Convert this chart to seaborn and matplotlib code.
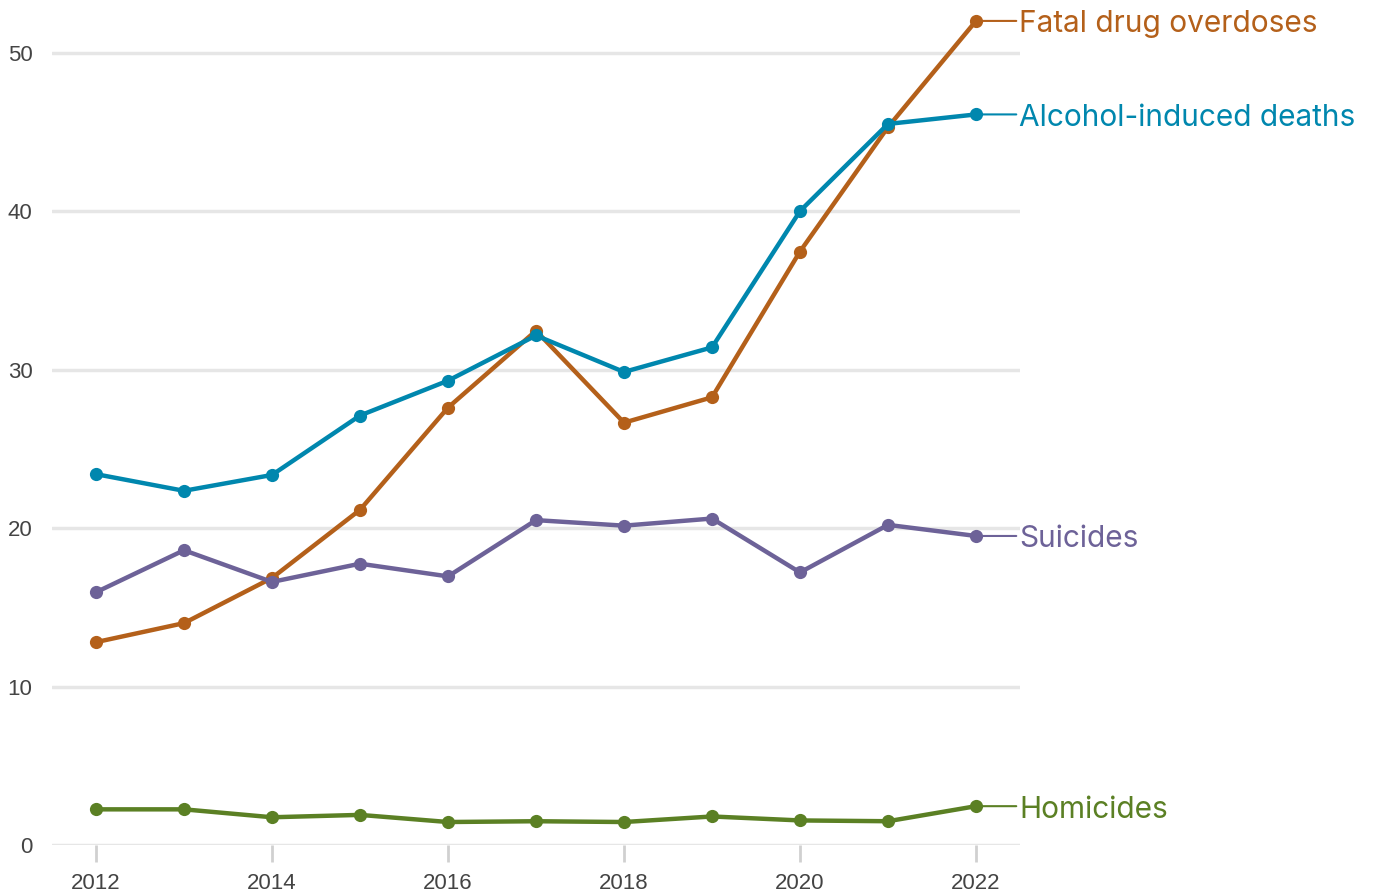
import matplotlib
matplotlib.use("Agg")
import matplotlib.pyplot as plt
import seaborn as sns
import pandas as pd

years = list(range(2012, 2023))
alcohol = [23.4, 22.35, 23.35, 27.1, 29.3, 32.15, 29.85, 31.4, 40.0, 45.5, 46.1]
drug = [12.8, 14.0, 16.85, 21.15, 27.6, 32.45, 26.65, 28.25, 37.45, 45.3, 52.0]
suicides = [15.95, 18.6, 16.6, 17.75, 16.95, 20.5, 20.15, 20.6, 17.2, 20.2, 19.5]
homicides = [2.25, 2.25, 1.75, 1.9, 1.45, 1.5, 1.45, 1.8, 1.55, 1.5, 2.45]
series_names = ["Fatal drug overdoses", "Alcohol-induced deaths", "Suicides", "Homicides"]
colors = ["#b4601a", "#0087ae", "#6d6298", "#5b8024"]
y_ticks = [0, 10, 20, 30, 40, 50]
x_ticks = [2012, 2014, 2016, 2018, 2020, 2022]

df = pd.concat([
    pd.DataFrame({"year": years, "value": vals, "series": name})
    for name, vals in zip(series_names, [drug, alcohol, suicides, homicides])
])

sns.set_theme(style="white")
plt.rcParams["font.family"] = ["Liberation Sans", "DejaVu Sans"]

fig = plt.figure(figsize=(13.75, 8.94), dpi=100)
ax = fig.add_axes([52 / 1375, 1 - 845 / 894, (1020 - 52) / 1375, (845 - 13) / 894])

palette = dict(zip(series_names, colors))
sns.lineplot(data=df, x="year", y="value", hue="series", palette=palette,
             marker="o", markersize=9.5, markeredgewidth=0, linewidth=3.2,
             legend=False, ax=ax, clip_on=False)

ax.set_xlim(2011.5, 2022.5)
ax.set_ylim(0, 52.5)
ax.set_yticks(y_ticks)
ax.set_xticks(x_ticks)
ax.set_xticklabels([str(x) for x in x_ticks])
ax.set_xlabel("")
ax.set_ylabel("")
for s in ax.spines.values():
    s.set_visible(False)
ax.grid(axis="y", color="#e6e6e6", linewidth=2.5)
ax.grid(axis="x", visible=False)
ax.tick_params(axis="x", bottom=True, length=12, width=2, color="#d0d0d0", labelsize=16,
               labelcolor="#444444", pad=8)
ax.tick_params(axis="y", left=False, length=0, labelsize=16, labelcolor="#444444", pad=14)
ax.set_axisbelow(True)

last_vals = [drug[-1], alcohol[-1], suicides[-1], homicides[-1]]
for name, col, v in zip(series_names, colors, last_vals):
    ax.annotate("", xy=(years[-1], v), xytext=(29, 0), textcoords="offset points",
                annotation_clip=False,
                arrowprops=dict(arrowstyle="-", color=col, lw=1.5, shrinkA=0, shrinkB=0))
    ax.annotate(name, xy=(years[-1], v), xytext=(31, -2.5), textcoords="offset points",
                va="center", ha="left", color=col, fontsize=21.5, family=["Inter", "DejaVu Sans"],
                annotation_clip=False)

fig.savefig("out.png", dpi=100)
